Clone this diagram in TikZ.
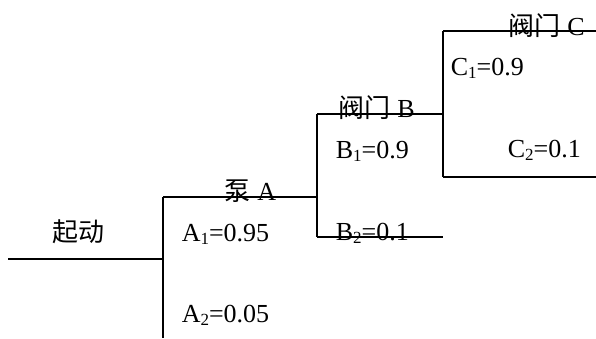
\documentclass[tikz,border=0pt]{standalone}
\usepackage{fontspec}
\setmainfont{Liberation Serif}
\newfontfamily\cjk{Noto Sans CJK SC}
\usetikzlibrary{positioning}
\newcommand\lowidx[1]{\raisebox{-3pt}{\fontsize{17}{17}\selectfont #1}}
\tikzset{lbl/.style={anchor=base west, inner sep=0pt, font=\fontsize{26}{30}\selectfont}}

\begin{document}
\begin{tikzpicture}[x=1pt, y=-1pt, line width=1.5pt]
    \useasboundingbox (0,0) rectangle (596,338);
    % branch points
    \coordinate(s0) at (8,259);
    \coordinate(a0) at (163,259);
    \coordinate(at) at (163,197);
    \coordinate(ab) at (163,338);
    \coordinate(b0) at (317,197);
    \coordinate(bt) at (317,114);
    \coordinate(bb) at (317,237);
    \coordinate(btr) at (443,114);
    \coordinate(bbr) at (443,237);
    \coordinate(ct) at (443,31);
    \coordinate(cb) at (443,177);
    \coordinate(ctr) at (596,31);
    \coordinate(cbr) at (596,177);
    \draw (s0) -- (a0);
    \draw (at) -- (ab);
    \draw (at) -- (b0);
    \draw (bt) -- (bb);
    \draw (bt) -- (btr);
    \draw (bb) -- (bbr);
    \draw (ct) -- (cb);
    \draw (ct) -- (ctr);
    \draw (cb) -- (cbr);
    % labels
    \node(start)[lbl] at (52,241) {\cjk 起动};
    \node(pumpA)[lbl] at (224,200) {{\cjk 泵} A};
    \node(a1)[lbl] at (181,241) {A\lowidx{1}=0.95};
    \node(a2)[lbl] at (181,322) {A\lowidx{2}=0.05};
    \node(valveB)[lbl] at (338,117) {{\cjk 阀门} B};
    \node(b1)[lbl] at (335,158) {B\lowidx{1}=0.9};
    \node(b2)[lbl] at (335,240) {B\lowidx{2}=0.1};
    \node(valveC)[lbl] at (508,35) {{\cjk 阀门} C};
    \node(c1)[lbl] at (450,75) {C\lowidx{1}=0.9};
    \node(c2)[lbl] at (507,157) {C\lowidx{2}=0.1};
\end{tikzpicture}
\end{document}
